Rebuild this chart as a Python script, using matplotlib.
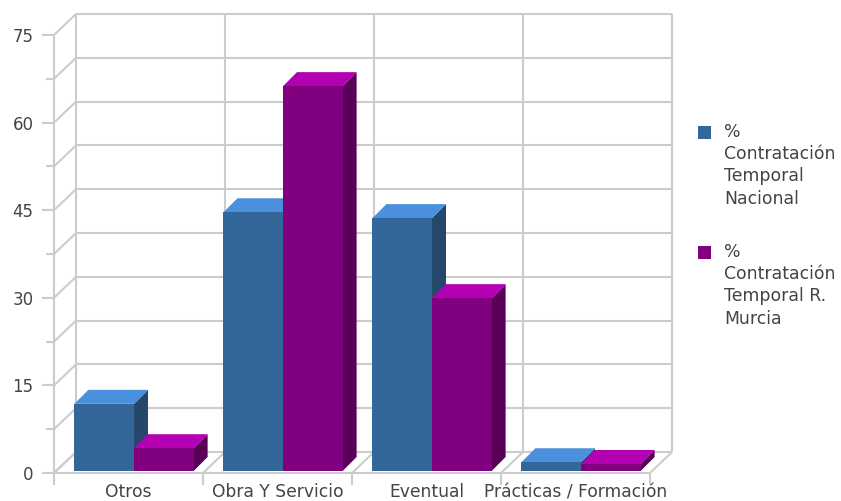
import matplotlib
matplotlib.use('Agg')
import numpy as np
import matplotlib.pyplot as plt
from matplotlib.patches import Polygon, Rectangle

categorias = ['Otros', 'Obra Y Servicio', 'Eventual', 'Prácticas / Formación']
nacional = [11.5, 44.3, 43.3, 1.5]
murcia = [3.9, 65.9, 29.6, 1.2]
leyenda = ['%\nContratación\nTemporal\nNacional', '%\nContratación\nTemporal R.\nMurcia']

W, H = 841, 501
GRID = '#cccccc'
TEXTO = '#444444'
AZUL = ('#336699', '#4a90dc', '#24476b')
MORADO = ('#800080', '#b300b3', '#590059')

plt.rcParams['font.family'] = ['DejaVu Sans']

fig = plt.figure(figsize=(W / 100, H / 100), dpi=100)
ax = fig.add_axes([54 / W, (H - 473) / H, 596 / W, 438 / H])
ax.set_xlim(0, 4)
ax.set_ylim(0, 75)

# un pixel en unidades de datos
px_x = 4 / 596
px_y = 75 / 438
fondo_x = 22 * px_x
fondo_y = 21 * px_y

for s in ax.spines.values():
    s.set_visible(False)
ax.set_facecolor('none')

x_bordes = np.arange(5)
y_lineas = np.arange(0, 75.1, 7.5)


def linea(xs, ys):
    ax.plot(xs, ys, color=GRID, lw=1.5, clip_on=False, zorder=1, solid_capstyle='butt')


# paredes del fondo
for y in y_lineas:
    linea([fondo_x, 4 + fondo_x], [y + fondo_y, y + fondo_y])
    linea([0, fondo_x], [y, y + fondo_y])
for x in x_bordes:
    linea([x + fondo_x, x + fondo_x], [fondo_y, 75 + fondo_y])
    linea([x, x + fondo_x], [0, fondo_y])
linea([0, 4], [0, 0])
linea([0, 0], [0, 75])

ax.set_xticks(x_bordes)
ax.set_xticklabels([])
ax.set_xticks(x_bordes[:-1] + 0.5, categorias, minor=True)
ax.set_yticks(np.arange(0, 76, 15))
ax.set_yticks(np.arange(7.5, 75, 15), minor=True)
ax.tick_params(axis='x', which='major', length=8.6, width=1.5, color=GRID)
ax.tick_params(axis='x', which='minor', length=0, pad=7.5, labelsize=12.3, labelcolor=TEXTO)
ax.tick_params(axis='y', which='major', length=8.6, width=1.5, color=GRID, pad=6,
               labelsize=12, labelcolor=TEXTO)
ax.tick_params(axis='y', which='minor', length=5.8, width=1.5, color=GRID)

# barras con cara frontal, superior y lateral
base = 2 * px_y
ancho = 0.4
inicio = 0.137
prof_x = 14 * px_x
prof_y = 14 * px_y
orden = 3


def barra(x, valor, colores):
    global orden
    tope = base + valor
    ax.add_patch(Polygon([[x + ancho, base], [x + ancho + prof_x, base + prof_y],
                          [x + ancho + prof_x, tope + prof_y], [x + ancho, tope]],
                         fc=colores[2], ec='none', clip_on=False, zorder=orden))
    ax.add_patch(Polygon([[x, tope], [x + prof_x, tope + prof_y],
                          [x + ancho + prof_x, tope + prof_y], [x + ancho, tope]],
                         fc=colores[1], ec='none', clip_on=False, zorder=orden))
    ax.add_patch(Rectangle((x, base), ancho, valor, fc=colores[0], ec='none',
                           clip_on=False, zorder=orden))
    orden += 1


for i in range(len(categorias)):
    barra(i + inicio, nacional[i], AZUL)
    barra(i + inicio + ancho, murcia[i], MORADO)

# leyenda
for texto, color, y_px in zip(leyenda, [AZUL[0], MORADO[0]], [126, 246]):
    fig.add_artist(Rectangle((698 / W, 1 - (y_px + 13) / H), 13 / W, 13 / H, fc=color, ec='none',
                             transform=fig.transFigure))
    fig.text(724 / W, 1 - (y_px - 3) / H, texto, color=TEXTO, fontsize=12.4, va='top', ha='left',
             linespacing=1.3)

fig.savefig('out.png', dpi=100)
